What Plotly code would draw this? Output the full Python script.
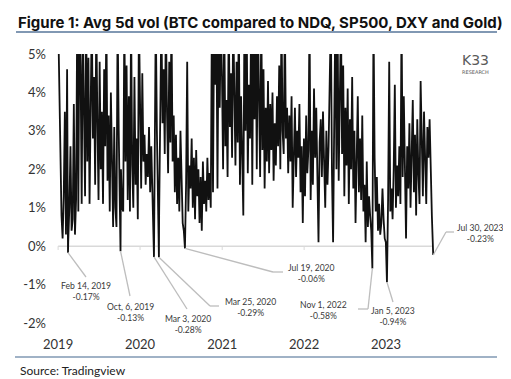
import pandas as pd
import plotly.graph_objects as go

# ---------------- data (5-day samples, % ; values >5 are clipped by the axis) -------------
vol_2019 = [6.0, 4.0, 1.7, 0.8, 0.2, 1.3, 3.5, 0.3, 4.6, 0.1,
            1.0, 2.6, 0.4, 0.7, 3.7, 0.3, 1.2, 6.0, 0.9, 6.0,
            4.7, 1.1, 6.0, 3.8, 1.3, 6.0, 2.2, 4.9, 1.1, 3.6,
            6.0, 2.8, 4.4, 1.6, 6.0, 3.2, 1.2, 4.8, 2.0, 3.5,
            1.1, 4.6, 2.6, 6.0, 1.7, 3.4, 0.9, 4.0, 2.3, 0.5,
            3.1, 1.0, 0.5, 6.0, 3.0, 1.2, 2.0, 1.0, 0.9, 6.0,
            2.2, 4.7, 1.2, 3.9, 0.9, 6.0, 2.1, 1.0, 4.4, 1.6,
            2.8, 0.7, 6.0]
vol_2020 = [3.0, 1.5, 4.5, 2.2, 2.9, 1.6, 2.4, 1.8, 3.1, 1.4,
            2.6, 1.2, 0.4, 2.0, 6.0, 3.0, 0.5, 0.8, 3.8, 6.0,
            3.2, 4.6, 2.4, 6.0, 3.5, 1.9, 4.8, 2.7, 6.0, 2.2,
            3.4, 1.4, 2.9, 1.1, 2.3, 0.9, 3.0, 1.2, 0.6, 0.4,
            0.3, 1.6, 4.8, 0.9, 2.1, 1.5, 2.8, 1.0, 2.3, 0.7,
            2.5, 1.3, 2.0, 0.6, 1.8, 0.4, 2.2, 1.1, 1.7, 0.9,
            2.3, 1.2, 1.9, 1.0, 6.0, 1.4, 6.0, 4.2, 6.0, 1.5,
            6.0, 3.6, 6.0]
vol_2021 = [4.4, 2.0, 6.0, 2.6, 3.8, 1.8, 6.0, 3.1, 4.5, 2.3,
            6.0, 3.4, 2.1, 4.8, 2.7, 6.0, 1.6, 3.9, 2.4, 0.8,
            6.0, 3.0, 6.0, 1.9, 4.2, 2.8, 6.0, 1.6, 6.0, 3.3,
            6.0, 2.0, 6.0, 4.0, 1.8, 6.0, 2.5, 4.6, 1.5, 3.6,
            2.2, 4.3, 1.9, 3.7, 2.5, 4.0, 1.7, 3.2, 2.1, 3.9,
            2.6, 4.7, 2.0, 6.0, 3.0, 2.4, 6.0, 2.8, 3.6, 1.9,
            3.4, 2.2, 3.9, 1.0, 2.9, 3.6, 1.8, 3.0, 2.3, 3.7,
            1.4, 2.6, 0.6]
vol_2022 = [2.8, 1.3, 3.4, 1.9, 2.5, 6.0, 1.2, 3.0, 1.6, 4.1,
            2.3, 3.6, 1.5, 0.1, 2.7, 3.3, 1.8, 3.5, 2.2, 1.0,
            3.0, 1.6, 2.6, 4.4, 6.0, 1.9, 0.1, 3.2, 6.0, 2.0,
            6.0, 1.7, 3.8, 6.0, 2.4, 4.7, 1.3, 3.6, 2.1, 4.1,
            1.1, 3.3, 2.0, 4.4, 1.5, 3.0, 0.6, 2.6, 3.9, 1.4,
            2.8, 1.2, 3.4, 0.9, 1.6, 0.1, 2.2, 0.5, 1.3, 0.8,
            0.4, 0.3, 6.0, 2.3, 0.9, 1.8, 0.4, 1.1, 0.3, 0.6,
            1.5, 0.7, 0.2]
vol_2023 = [0.1, 0.2, 1.2, 4.8, 0.9, 1.5, 0.7, 2.0, 4.2, 1.0,
            2.1, 1.3, 2.6, 1.1, 6.0, 1.8, 3.9, 1.2, 0.2, 2.6,
            1.5, 3.2, 1.0, 2.4, 3.8, 1.4, 2.9, 0.8, 3.3, 1.9,
            1.1, 4.3, 2.2, 1.3, 3.5, 2.6, 1.1, 3.1, 2.3, 3.3,
            1.5, 0.8]

low_dates = ["2019-02-14", "2019-10-06", "2020-03-03", "2020-03-25",
             "2020-07-19", "2022-11-01", "2023-01-05", "2023-07-30"]
low_values = [-0.17, -0.13, -0.28, -0.29, -0.06, -0.58, -0.94, -0.23]
low_labels = ["Feb 14, 2019", "Oct, 6, 2019", "Mar 3, 2020", "Mar 25, 2020",
              "Jul 19, 2020", "Nov 1, 2022", "Jan 5, 2023", "Jul 30, 2023"]

year_ticks = ["2019-01-01", "2020-01-01", "2021-01-01", "2022-01-01", "2023-01-01"]
year_labels = ["2019", "2020", "2021", "2022", "2023"]
y_ticks = [-2, -1, 0, 1, 2, 3, 4, 5]

# ---------------- build series ----------------
vals = vol_2019 + vol_2020 + vol_2021 + vol_2022 + vol_2023
base = pd.Series(vals, index=pd.date_range("2019-01-01", periods=len(vals), freq="5D"))
lows = pd.Series(low_values, index=pd.to_datetime(low_dates))
series = pd.concat([base[~base.index.isin(lows.index)], lows]).sort_index()

# ---------------- geometry ----------------
OFF = 8                      # page body margin of the html page
WIDTH, HEIGHT = 511 - OFF, 379 - OFF
L, T = 57 - OFF, 54 - OFF    # plot area left/top (page px 57, 54)
R = WIDTH - (435 - OFF)      # plot right at page px 435
B = HEIGHT - (323 - OFF)     # plot bottom at page px 323
W = WIDTH - L - R
H = HEIGHT - T - B
X0, X1 = pd.Timestamp("2018-12-27"), pd.Timestamp("2023-08-07")
Y0, Y1 = -2, 5


def pxp(px):
    return (px - OFF - L) / W


def pyp(py):
    return (HEIGHT - B - (py - OFF)) / H


def date_paper(d):
    return (pd.Timestamp(d) - X0) / (X1 - X0)


def val_paper(v):
    return (v - Y0) / (Y1 - Y0)


# leader-line bends and label centres (page pixels)
callout_bends = [[(86, 277)], [(130, 296)], [(187, 309)], [(210, 306), (219, 306)],
                 [(273, 272), (283, 272)], [(368, 309), (358, 309)], [(393, 302)],
                 [(446, 232), (454, 232)]]
label_centres = [(86, 291), (130, 312), (188, 324), (250, 307), (311, 273),
                 (323, 310), (393, 316), (480, 233)]

fig = go.Figure()
fig.add_trace(go.Scatter(x=series.index, y=series.values, mode="lines",
                         line=dict(color="#111111", width=1.8), hoverinfo="skip",
                         showlegend=False))

shapes = []
# zero line and small year ticks
shapes.append(dict(type="line", xref="x", yref="y", x0=series.index[0], x1=series.index[-1],
                   y0=0, y1=0, line=dict(color="#d9d9d9", width=1.5), layer="below"))
for t in year_ticks:
    shapes.append(dict(type="line", xref="x", yref="y", x0=t, x1=t, y0=0, y1=-0.1,
                       line=dict(color="#d9d9d9", width=1), layer="below"))

annotations = []
grey = "#bdbdbd"
for d, v, lab, bends, (lx, ly) in zip(low_dates, low_values, low_labels, callout_bends, label_centres):
    pts = [(date_paper(d), val_paper(v))] + [(pxp(bx), pyp(by)) for bx, by in bends]
    for (ax0, ay0), (ax1, ay1) in zip(pts[:-1], pts[1:]):
        shapes.append(dict(type="line", xref="paper", yref="paper", x0=ax0, y0=ay0,
                           x1=ax1, y1=ay1, line=dict(color=grey, width=1.3)))
    annotations.append(dict(xref="paper", yref="paper", x=pxp(lx), y=pyp(ly),
                            text=f"{lab}<br>{v:.2f}%", showarrow=False, align="center",
                            xanchor="center", yanchor="middle",
                            font=dict(size=8.6, color="#3a3a3a", family="Lato")))

# title, rules, source, logo
annotations.append(dict(xref="paper", yref="paper", x=pxp(16), y=pyp(22), xanchor="left",
                        yanchor="middle", showarrow=False,
                        text="<b>Figure 1: Avg 5d vol (BTC compared to NDQ, SP500, DXY and Gold)</b>",
                        font=dict(size=15, color="#111111", family="Inter")))
shapes.append(dict(type="line", xref="paper", yref="paper", x0=pxp(16), x1=pxp(497),
                   y0=pyp(32), y1=pyp(32), line=dict(color="#8198b3", width=2)))
shapes.append(dict(type="line", xref="paper", yref="paper", x0=pxp(15), x1=pxp(497),
                   y0=pyp(357), y1=pyp(357), line=dict(color="#8198b3", width=1.5)))
annotations.append(dict(xref="paper", yref="paper", x=pxp(18), y=pyp(370), xanchor="left",
                        yanchor="middle", showarrow=False, text="Source: Tradingview",
                        font=dict(size=12, color="#222222", family="Lato")))
annotations.append(dict(xref="paper", yref="paper", x=pxp(475), y=pyp(60), xanchor="center",
                        yanchor="middle", showarrow=False, text="K33",
                        font=dict(size=14, color="#5a5a5a", family="DejaVu Sans")))
annotations.append(dict(xref="paper", yref="paper", x=pxp(475), y=pyp(72), xanchor="center",
                        yanchor="middle", showarrow=False, text="RESEARCH",
                        font=dict(size=5, color="#5a5a5a", family="DejaVu Sans")))

fig.update_layout(
    width=WIDTH, height=HEIGHT,
    margin=dict(l=L, r=R, t=T, b=B),
    paper_bgcolor="white", plot_bgcolor="white",
    shapes=shapes, annotations=annotations,
    font=dict(family="Lato", color="#333333"),
    xaxis=dict(type="date", range=[X0, X1], tickvals=year_ticks, ticktext=year_labels,
               showgrid=False, zeroline=False, showline=False, ticks="",
               tickfont=dict(size=13, color="#333333"), ticklabelstandoff=12),
    yaxis=dict(range=[Y0, Y1], tickvals=y_ticks, ticktext=[f"{t}%" for t in y_ticks],
               showgrid=False, zeroline=False, showline=False, ticks="",
               tickfont=dict(size=13, color="#333333"), ticklabelstandoff=10),
)

fig.write_html("out.html")
